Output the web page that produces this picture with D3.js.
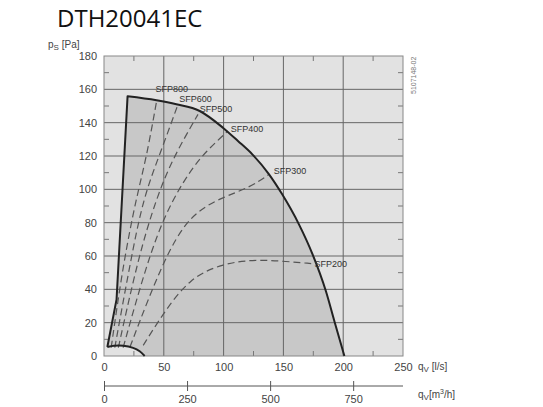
<!DOCTYPE html>
<html><head><meta charset="utf-8">
<script src="https://cdn.jsdelivr.net/npm/d3@7"></script>
<style>body{margin:0;background:#fff}svg{font-family:"Liberation Sans",Arial,sans-serif}</style>
</head><body><svg id="c" width="543" height="407"></svg>
<script>
const envelopeLeft=[[2.8,5.4],[10.5,34],[19.7,155.8]];
const envelopeArc=[[19.7,155.8],[43.9,153.4],[60.5,151],[80,147],[99.4,137],[112,129],[124,121],[138,109],[149,97],[163,79],[174.4,61],[185.5,39],[193,20],[201,0]];
const dome=[[2.8,5.4],[8,6.2],[16,6.4],[25,5],[30,3],[34,0]];
const sfpNames=["SFP200","SFP300","SFP400","SFP500","SFP600","SFP800"];
const sfpLines=[
 [[32.8,6.4],[49,25],[71.7,47],[99.4,55.4],[124,57.8],[149,57],[174,55.4]],
 [[21.7,5.4],[49.4,57.4],[71.7,85],[99.4,95.4],[121.7,101],[138,109]],
 [[16,5],[35.5,55],[52,87],[71.7,111],[85.5,123],[103.6,135]],
 [[12,5],[28.6,59],[43.9,95],[57.8,119],[78.6,145]],
 [[9,5],[21.7,55],[32.8,95],[46.7,121],[61.9,151]],
 [[6,5],[16,55],[27,95],[35.5,119],[44,153]]];
const sfpLabelPos=[[176,55],[142,111],[106,136],[80,148.5],[63,154],[43,160]];
const xTicks=[0,50,100,150,200,250], yTicks=[0,20,40,60,80,100,120,140,160,180], m3Ticks=[0,250,500,750];

const svg=d3.select("#c");
const x=d3.scaleLinear().domain([0,250]).range([104,403]);
const y=d3.scaleLinear().domain([0,180]).range([356,56]);
const xm=d3.scaleLinear().domain([0,900]).range([104,403]);
svg.append("text").attr("x",57).attr("y",27).attr("font-size",24).attr("font-family","Open Sans, sans-serif").attr("fill","#111").text("DTH20041EC");
svg.append("rect").attr("x",104).attr("y",56).attr("width",299).attr("height",300).attr("fill","#e2e2e2");
const lin=d3.line().x(d=>x(d[0])).y(d=>y(d[1]));
const mono=d3.line().x(d=>x(d[0])).y(d=>y(d[1])).curve(d3.curveMonotoneX);
const domeLine=d3.line().x(d=>x(d[0])).y(d=>y(d[1])).curve(d3.curveBasis);
const arcD=mono(envelopeArc), leftD=lin(envelopeLeft), domeD=domeLine(dome);
const fillD=leftD+"L"+arcD.slice(1)+lin([...dome].reverse()).replace(/^M/,"L")+"Z";
svg.append("path").attr("d",fillD).attr("fill","#c8c8c8");
const g=svg.append("g");
d3.range(25,250,50).forEach(v=>{g.append("line").attr("x1",x(v)).attr("x2",x(v)).attr("y1",356).attr("y2",351).attr("stroke","#777");g.append("line").attr("x1",x(v)).attr("x2",x(v)).attr("y1",56).attr("y2",61).attr("stroke","#777");});
d3.range(10,180,20).forEach(v=>{g.append("line").attr("y1",y(v)).attr("y2",y(v)).attr("x1",104).attr("x2",109).attr("stroke","#777");g.append("line").attr("y1",y(v)).attr("y2",y(v)).attr("x1",398).attr("x2",403).attr("stroke","#777");});
xTicks.slice(1,-1).forEach(v=>g.append("line").attr("x1",x(v)).attr("x2",x(v)).attr("y1",56).attr("y2",356).attr("stroke","#666"));
yTicks.slice(1,-1).forEach(v=>g.append("line").attr("y1",y(v)).attr("y2",y(v)).attr("x1",104).attr("x2",403).attr("stroke","#666"));
svg.append("rect").attr("x",104).attr("y",56).attr("width",299).attr("height",300).attr("fill","none").attr("stroke","#888");
sfpLines.forEach(l=>svg.append("path").attr("d",d3.line().x(d=>x(d[0])).y(d=>y(d[1])).curve(d3.curveBasis)(l)).attr("fill","none").attr("stroke","#555").attr("stroke-width",1.2).attr("stroke-dasharray","7,4"));
svg.append("path").attr("d",leftD+"L"+arcD.slice(1)).attr("fill","none").attr("stroke","#222").attr("stroke-width",2).attr("stroke-linejoin","round");
svg.append("path").attr("d",domeD).attr("fill","none").attr("stroke","#222").attr("stroke-width",2);
sfpNames.forEach((n,i)=>{const p=sfpLabelPos[i];svg.append("text").attr("x",x(p[0])).attr("y",y(p[1])+3).attr("font-size",9).attr("fill","#333").text(n);});
const ax=d3.axisBottom(x).tickValues(xTicks).tickSize(0).tickPadding(7);
svg.append("g").attr("transform","translate(0,356)").call(ax).call(s=>{s.select(".domain").remove();s.selectAll("text").attr("font-size",11).attr("fill","#444").attr("font-family","Liberation Sans, Arial");});
const ay=d3.axisLeft(y).tickValues(yTicks).tickSize(0).tickPadding(7);
svg.append("g").attr("transform","translate(104,0)").call(ay).call(s=>{s.select(".domain").remove();s.selectAll("text").attr("font-size",11).attr("fill","#444").attr("font-family","Liberation Sans, Arial");});
const am=d3.axisBottom(xm).tickValues(m3Ticks).tickSize(5).tickSizeOuter(0).tickPadding(4);
const gm=svg.append("g").attr("transform","translate(0,386)").call(am);
gm.select(".domain").attr("d","M104,0H403").attr("stroke","#555");
gm.selectAll(".tick line").attr("y1",-5).attr("stroke","#555");
gm.selectAll("text").attr("font-size",11).attr("fill","#444").attr("font-family","Liberation Sans, Arial");
const lab=(xx,yy,main,sub,rest)=>{const t=svg.append("text").attr("x",xx).attr("y",yy).attr("font-size",10).attr("fill","#444");t.append("tspan").text(main);t.append("tspan").attr("font-size",8).attr("dy",2).text(sub);t.append("tspan").attr("dy",-2).text(rest);return t;};
lab(418,370,"q","V"," [l/s]");
const t2=lab(418,398,"q","V","[m");t2.append("tspan").attr("font-size",7).attr("dy",-4).text("3");t2.append("tspan").attr("dy",4).text("/h]");
lab(48,48,"p","S"," [Pa]");
svg.append("text").attr("transform","translate(416,94) rotate(-90)").attr("font-size",7).attr("fill","#777").text("5107148-02");
</script></body></html>
